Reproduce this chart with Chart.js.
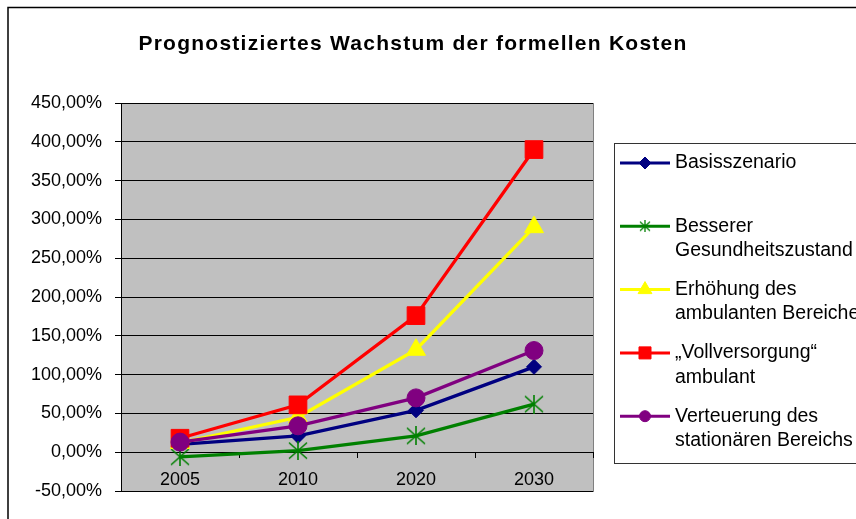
<!DOCTYPE html>
<html>
<head>
<meta charset="utf-8">
<script src="https://cdn.jsdelivr.net/npm/chart.js@4.4.1/dist/chart.umd.min.js"></script>
<style>
    html, body { margin: 0; padding: 0; background: #fff; }
</style>
</head>
<body>
<canvas id="myChart" width="856" height="519"></canvas>
<script>
// DATA

var years = ['2005', '2010', '2020', '2030'];
var yTicks = [-50, 0, 50, 100, 150, 200, 250, 300, 350, 400, 450];

var basisszenario = [10, 21, 54, 110];
var besserer = [-6, 2, 21, 62];
var erhoehung = [12, 45, 132, 290];
var vollversorgung = [18, 61, 176, 390];
var verteuerung = [13, 34, 70, 131];

var FONT = '"Liberation Sans", Arial, sans-serif';

// green asterisk marker (vertical bar + X)
function makeStar(w, h, lw) {
    var c = document.createElement('canvas');
    c.width = w;
    c.height = h;
    var g = c.getContext('2d');
    g.strokeStyle = '#008000';
    g.lineWidth = lw;
    g.beginPath();
    g.moveTo(w / 2, 0); g.lineTo(w / 2, h);
    g.moveTo(1, 1.5); g.lineTo(w - 1, h - 1.5);
    g.moveTo(w - 1, 1.5); g.lineTo(1, h - 1.5);
    g.stroke();
    return c;
}
var starBig = makeStar(20, 19, 1.6);
var starSmall = makeStar(12, 12, 1.3);

// legend marker settings, same order as datasets
var legendMarkers = [
    { style: 'rectRot', r: 6 },
    { style: starSmall, r: 6 },
    { style: 'triangle', r: 8 },
    { style: 'rect', r: 8.5 },
    { style: 'circle', r: 5.5 }
];

// PLUGINS

var plotBackground = {
    id: 'plotBackground',
    beforeDraw: function(chart) {
        var a = chart.chartArea;
        var ctx = chart.ctx;
        ctx.save();
        ctx.fillStyle = '#C0C0C0';
        ctx.fillRect(a.left, a.top, a.right - a.left, a.bottom - a.top);
        ctx.strokeStyle = '#808080';
        ctx.lineWidth = 1;
        ctx.strokeRect(a.left + 0.5, a.top + 0.5, a.right - a.left, a.bottom - a.top);
        ctx.restore();
    }
};

var frameTitleLegend = {
    id: 'frameTitleLegend',
    afterDraw: function(chart) {
        var ctx = chart.ctx;
        ctx.save();

        // outer frame
        ctx.strokeStyle = '#000';
        ctx.lineWidth = 1.5;
        ctx.strokeRect(8, 7.5, 1000, 1000);

        // title
        ctx.fillStyle = '#000';
        ctx.font = 'bold 21px ' + FONT;
        ctx.letterSpacing = '1.25px';
        ctx.textAlign = 'center';
        ctx.textBaseline = 'alphabetic';
        ctx.fillText('Prognostiziertes Wachstum der formellen Kosten', 413, 50);
        ctx.letterSpacing = '0px';

        // legend
        ctx.strokeStyle = '#333';
        ctx.lineWidth = 1;
        ctx.strokeRect(614.5, 143.5, 300, 320);
        ctx.font = '19.5px ' + FONT;
        ctx.textAlign = 'left';
        ctx.textBaseline = 'middle';
        chart.data.datasets.forEach(function(ds, i) {
            var y = 163 + i * 63.3;
            ctx.strokeStyle = ds.borderColor;
            ctx.lineWidth = 3;
            ctx.beginPath();
            ctx.moveTo(620, y);
            ctx.lineTo(670, y);
            ctx.stroke();
            ctx.fillStyle = ds.pointBackgroundColor;
            ctx.lineWidth = 1;
            Chart.helpers.drawPoint(ctx, {
                pointStyle: legendMarkers[i].style,
                radius: legendMarkers[i].r,
                rotation: 0,
                borderWidth: 1
            }, 645, y);
            ctx.fillStyle = '#000';
            ds.label.split('\n').forEach(function(line, j) {
                ctx.fillText(line, 675, y + j * 24.5);
            });
        });
        ctx.restore();
    }
};

// CHART

var canvas = document.getElementById('myChart');
var ctx = canvas.getContext('2d');

var chart = new Chart(ctx, {
    type: 'line',
    data: {
        labels: years,
        datasets: [{
            label: 'Basisszenario',
            data: basisszenario,
            borderColor: '#000080',
            backgroundColor: '#000080',
            pointBackgroundColor: '#000080',
            pointStyle: 'rectRot',
            pointRadius: 7.5,
            order: 4
        },
        {
            label: 'Besserer\nGesundheitszustand',
            data: besserer,
            borderColor: '#008000',
            backgroundColor: '#008000',
            pointBackgroundColor: '#008000',
            pointStyle: starBig,
            pointRadius: 10,
            order: 3
        },
        {
            label: 'Erhöhung des\nambulanten Bereiches',
            data: erhoehung,
            borderColor: '#FFFF00',
            backgroundColor: '#FFFF00',
            pointBackgroundColor: '#FFFF00',
            pointStyle: 'triangle',
            pointRadius: 11,
            order: 2
        },
        {
            label: '„Vollversorgung“\nambulant',
            data: vollversorgung,
            borderColor: '#FF0000',
            backgroundColor: '#FF0000',
            pointBackgroundColor: '#FF0000',
            pointStyle: 'rect',
            pointRadius: 12.5,
            order: 1
        },
        {
            label: 'Verteuerung des\nstationären Bereichs',
            data: verteuerung,
            borderColor: '#800080',
            backgroundColor: '#800080',
            pointBackgroundColor: '#800080',
            pointStyle: 'circle',
            pointRadius: 9,
            order: 0
        }]
    },
    options: {
        responsive: false,
        animation: false,
        elements: {
            line: { borderWidth: 3.3, tension: 0 },
            point: { borderWidth: 1 }
        },
        layout: {
            // the x axis sits on 0 %, so it takes no room at the bottom
            padding: { top: 103, right: 263, bottom: 28, left: 0 }
        },
        plugins: {
            legend: { display: false },
            title: { display: false },
            tooltip: { enabled: false }
        },
        scales: {
            x: {
                type: 'category',
                offset: true,
                position: { y: 0 },
                grid: {
                    drawOnChartArea: false,
                    offset: true,
                    tickLength: 5,
                    color: '#000'
                },
                border: { color: '#000', width: 1 },
                ticks: {
                    font: { size: 18, family: FONT },
                    color: '#000',
                    padding: 12,
                    maxRotation: 0,
                    autoSkip: false
                }
            },
            y: {
                min: -50,
                max: 450,
                afterBuildTicks: function(scale) {
                    scale.ticks = yTicks.map(function(v) { return { value: v }; });
                },
                afterFit: function(scale) { scale.width = 121; },
                grid: { color: '#000', tickLength: 6, lineWidth: 1 },
                border: { color: '#000', width: 1 },
                ticks: {
                    font: { size: 18, family: FONT },
                    color: '#000',
                    padding: 13,
                    callback: function(v) { return v.toFixed(2).replace('.', ',') + '%'; }
                }
            }
        }
    },
    plugins: [plotBackground, frameTitleLegend]
});
</script>
</body>
</html>
